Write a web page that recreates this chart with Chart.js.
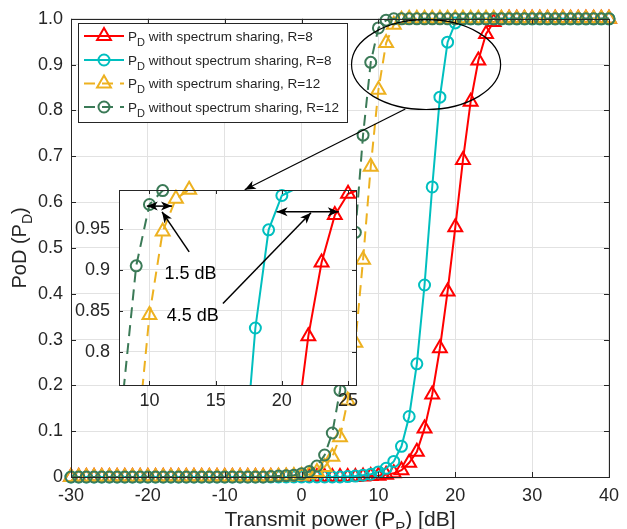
<!DOCTYPE html>
<html><head><meta charset="utf-8">
<script src="https://cdn.jsdelivr.net/npm/chart.js@4.4.1/dist/chart.umd.min.js"></script>
<style>
html,body{margin:0;padding:0;background:#fff;}
#wrap{position:relative;width:627px;height:529px;overflow:hidden;}
canvas{position:absolute;left:0;top:0;}
</style></head><body>
<div id="wrap"><canvas id="main" width="627" height="529"></canvas><canvas id="inset" width="627" height="529"></canvas></div>
<script>
// ---------------- data ----------------
const xValues = [-30,-29,-28,-27,-26,-25,-24,-23,-22,-21,-20,-19,-18,-17,-16,-15,-14,-13,-12,-11,
  -10,-9,-8,-7,-6,-5,-4,-3,-2,-1,0,1,2,3,4,5,6,7,8,9,10,11,12,13,14,15,16,17,18,19,20,
  21,22,23,24,25,26,27,28,29,30,31,32,33,34,35,36,37,38,39,40];
// P_D with spectrum sharing, R=8
const pdShareR8 = [0,0,0,0,0,0,0,0,0,0, 0,0,0,0,0,0,0,0,0,0, 0,0,0,0,0,0,0,0,0,0,
  0,0,0,0,0,0,0,0, 0.001,0.002,0.003,0.005,0.008,0.015,0.031,0.055,0.106,0.180,0.281,0.405,
  0.545,0.692,0.819,0.909,0.967,0.993,0.999, 1,1,1,1,1,1,1,1,1,1,1,1,1,1];
// P_D without spectrum sharing, R=8
const pdNoShareR8 = [0,0,0,0,0,0,0,0,0,0, 0,0,0,0,0,0,0,0,0,0, 0,0,0,0,0,0,0,0,0,0,
  0,0,0,0,0,0, 0.001,0.002,0.004,0.006,0.011,0.019,0.034,0.067,0.132,0.247,0.419,0.633,0.829,0.949,
  0.991,0.999, 1,1,1,1,1,1,1,1,1,1,1,1,1,1,1,1,1,1,1];
// P_D with spectrum sharing, R=12
const pdShareR12 = [0,0,0,0,0,0,0,0,0,0, 0,0,0,0,0,0,0,0,0,0, 0,0,0,0,0,0,0,
  0.001,0.001,0.002,0.003,0.006,0.011,0.022,0.044,0.087,0.167,0.293,0.474,0.677,0.845,0.947,0.987,0.998,
  1,1,1,1,1,1,1,1,1,1,1,1,1,1,1,1,1,1,1,1,1,1,1,1,1,1,1];
// P_D without spectrum sharing, R=12
const pdNoShareR12 = [0,0,0,0,0,0,0,0,0,0, 0,0,0,0,0,0,0,0,0,0, 0,0,0,0,0,0,
  0.001,0.002,0.003,0.004,0.007,0.012,0.024,0.048,0.096,0.189,0.335,0.534,0.746,0.905,0.980,0.997,
  1,1,1,1,1,1,1,1,1,1,1,1,1,1,1,1,1,1,1,1,1,1,1,1,1,1,1,1,1];

const seriesNames = ['with spectrum sharing, R=8','without spectrum sharing, R=8',
  'with spectrum sharing, R=12','without spectrum sharing, R=12'];
const xTicks = [-30,-20,-10,0,10,20,30,40];
const yTicks = [0,0.1,0.2,0.3,0.4,0.5,0.6,0.7,0.8,0.9,1.0];
const yTickLabels = ['0','0.1','0.2','0.3','0.4','0.5','0.6','0.7','0.8','0.9','1.0'];
const insetXTicks = [10,15,20,25];
const insetYTicks = [0.8,0.85,0.9,0.95];
const insetYTickLabels = ['0.8','0.85','0.9','0.95'];
const insetXRange = [7.7, 25.6];
const insetYRange = [0.7593, 0.9977];
// annotations (data coordinates)
const zoomEllipse = [16.2, 0.9, 9.7, 0.098];     // centre x, centre y, half width, half height
const zoomPointer = [13.5, 0.803, -7.4, 0.627];   // from (x,y) to (x,y)
const gapArrows = [[9.8, 11.7, 0.978], [19.6, 24.3, 0.971]];  // x1, x2, y
const labelArrows = [[13.0, 0.922, 10.95, 0.971], [15.55, 0.859, 22.2, 0.970]];
const gapLabels = ['1.5 dB', '4.5 dB'];
const gapLabelPos = [[11.13, 0.8944], [11.3, 0.8433]];

// ---------------- styles ----------------
const F = '"Liberation Sans", Arial, Helvetica, sans-serif';
const INK = '#262626';
const GRID = '#e2e2e2';
const styles = [
  {color:'#ff0000', shape:'triangle', dash:[]},
  {color:'#00bfbf', shape:'circle', dash:[]},
  {color:'#edb120', shape:'triangle', dash:[11,7]},
  {color:'#3b7a57', shape:'circle', dash:[11,7]}
];
const seriesData = [pdShareR8, pdNoShareR8, pdShareR12, pdNoShareR12];
const markerR = s => (s === 'triangle' ? 8 : 5.5);

function baseDataset(i, arr) {
  return {
    label: seriesNames[i],
    data: xValues.map((x, k) => ({x: x, y: arr[k]})),
    borderColor: styles[i].color,
    backgroundColor: 'rgba(0,0,0,0)',
    borderWidth: 2,
    borderDash: styles[i].dash,
    pointStyle: styles[i].shape,
    pointRadius: markerR(styles[i].shape),
    pointBorderWidth: 2,
    pointBorderColor: styles[i].color,
    pointBackgroundColor: 'rgba(0,0,0,0)',
    tension: 0,
    order: 4 - i
  };
}
function mainDatasets() {
  return seriesData.map((arr, i) => Object.assign(baseDataset(i, arr), {clip: false}));
}
function insetDatasets() {
  const out = [];
  seriesData.forEach((arr, i) => {
    // lines clipped to the inset box, markers only when their centre lies inside it
    out.push(Object.assign(baseDataset(i, arr), {clip: 0, pointRadius: 0, order: 10 - 2 * i}));
    out.push(Object.assign(baseDataset(i, arr), {
      clip: {left: 0, right: 0, top: 10, bottom: 0}, showLine: false, order: 9 - 2 * i,
      pointRadius: c => (c.raw && c.raw.y > 0.9985 ? 0 : markerR(styles[i].shape))
    }));
  });
  return out;
}

function drawMarker(ctx, shape, x, y, r) {
  ctx.beginPath();
  if (shape === 'circle') {
    ctx.arc(x, y, r, 0, Math.PI * 2);
  } else {
    const s = Math.sin(Math.PI * 2 / 3) * r;
    ctx.moveTo(x, y - r);
    ctx.lineTo(x + s, y + r / 2);
    ctx.lineTo(x - s, y + r / 2);
    ctx.closePath();
  }
  ctx.stroke();
}

function drawRich(ctx, parts, x, y, size, subSize, subDy) {
  let cx = x;
  for (const p of parts) {
    ctx.font = (p.sub ? subSize : size) + 'px ' + F;
    ctx.fillText(p.t, cx, p.sub ? y + subDy : y);
    cx += ctx.measureText(p.t).width;
  }
  return cx - x;
}
function richWidth(ctx, parts, size, subSize) {
  let w = 0;
  for (const p of parts) { ctx.font = (p.sub ? subSize : size) + 'px ' + F; w += ctx.measureText(p.t).width; }
  return w;
}

function arrowHead(ctx, x1, y1, x2, y2) {
  const a = Math.atan2(y2 - y1, x2 - x1);
  const L = 11, W = 4.5, N = 3;
  ctx.save();
  ctx.translate(x2, y2); ctx.rotate(a);
  ctx.beginPath();
  ctx.moveTo(0, 0);
  ctx.lineTo(-L, -W);
  ctx.lineTo(-L + N, 0);
  ctx.lineTo(-L, W);
  ctx.closePath();
  ctx.fill();
  ctx.restore();
}

function drawBoxTicks(chart, xt, yt, len) {
  const {ctx, chartArea: a, scales: {x, y}} = chart;
  ctx.save();
  ctx.strokeStyle = INK; ctx.lineWidth = 1; ctx.setLineDash([]);
  ctx.beginPath();
  xt.forEach(v => {
    const px = Math.round(x.getPixelForValue(v)) + 0.5;
    ctx.moveTo(px, a.bottom); ctx.lineTo(px, a.bottom - len);
    ctx.moveTo(px, a.top); ctx.lineTo(px, a.top + len);
  });
  yt.forEach(v => {
    const py = Math.round(y.getPixelForValue(v)) + 0.5;
    ctx.moveTo(a.left, py); ctx.lineTo(a.left + len, py);
    ctx.moveTo(a.right, py); ctx.lineTo(a.right - len, py);
  });
  ctx.stroke();
  ctx.strokeRect(Math.round(a.left) + 0.5, Math.round(a.top) + 0.5,
    Math.round(a.right - a.left), Math.round(a.bottom - a.top));
  ctx.restore();
}

const mainDecor = {
  id: 'mainDecor',
  beforeDraw(chart) {
    const ctx = chart.ctx;
    ctx.save(); ctx.fillStyle = '#fff'; ctx.fillRect(0, 0, chart.width, chart.height); ctx.restore();
  },
  afterDraw(chart) {
    const {ctx, chartArea: a, scales: {x, y}} = chart;
    drawBoxTicks(chart, xTicks, yTicks, 5);
    ctx.save();
    // ellipse + pointer
    ctx.strokeStyle = '#000'; ctx.fillStyle = '#000'; ctx.lineWidth = 1.2; ctx.setLineDash([]);
    const cx = x.getPixelForValue(zoomEllipse[0]), cy = y.getPixelForValue(zoomEllipse[1]);
    const rx = x.getPixelForValue(zoomEllipse[0] + zoomEllipse[2]) - cx;
    const ry = cy - y.getPixelForValue(zoomEllipse[1] + zoomEllipse[3]);
    ctx.beginPath(); ctx.ellipse(cx, cy, rx, ry, 0, 0, Math.PI * 2); ctx.stroke();
    const p1x = x.getPixelForValue(zoomPointer[0]), p1y = y.getPixelForValue(zoomPointer[1]);
    const p2x = x.getPixelForValue(zoomPointer[2]), p2y = y.getPixelForValue(zoomPointer[3]);
    ctx.beginPath(); ctx.moveTo(p1x, p1y); ctx.lineTo(p2x, p2y); ctx.stroke();
    arrowHead(ctx, p1x, p1y, p2x, p2y);
    // legend
    const lx = 78.5, ly = 23.5, lw = 269, lh = 99;
    ctx.fillStyle = '#fff'; ctx.fillRect(lx, ly, lw, lh);
    ctx.strokeStyle = INK; ctx.lineWidth = 1; ctx.strokeRect(lx, ly, lw, lh);
    const rows = [36, 60, 83.5, 107];
    rows.forEach((ry2, i) => {
      const st = styles[i];
      ctx.strokeStyle = st.color; ctx.lineWidth = 2; ctx.setLineDash(st.dash);
      ctx.beginPath(); ctx.moveTo(84, ry2); ctx.lineTo(124, ry2); ctx.stroke();
      ctx.setLineDash([]);
      drawMarker(ctx, st.shape, 104, ry2, markerR(st.shape));
      ctx.fillStyle = INK; ctx.textBaseline = 'alphabetic'; ctx.textAlign = 'left';
      drawRich(ctx, [{t:'P'}, {t:'D', sub:true}, {t:' ' + seriesNames[i]}], 128, ry2 + 4.5, 13.5, 11, 5);
    });
    // axis titles
    ctx.fillStyle = INK; ctx.textAlign = 'left'; ctx.textBaseline = 'alphabetic';
    const xt = [{t:'Transmit power (P'}, {t:'P', sub:true}, {t:') [dB]'}];
    const xw = richWidth(ctx, xt, 21, 15);
    drawRich(ctx, xt, (a.left + a.right) / 2 - xw / 2, 525.5, 21, 15, 6);
    const yt = [{t:'PoD (P'}, {t:'D', sub:true}, {t:')'}];
    const yw = richWidth(ctx, yt, 20, 14);
    ctx.save();
    ctx.translate(25.5, (a.top + a.bottom) / 2);
    ctx.rotate(-Math.PI / 2);
    drawRich(ctx, yt, -yw / 2, 0, 20, 14, 6);
    ctx.restore();
    ctx.restore();
  }
};

const insetDecor = {
  id: 'insetDecor',
  beforeDraw(chart) {
    const {ctx, chartArea: a} = chart;
    ctx.save(); ctx.fillStyle = '#fff'; ctx.fillRect(a.left, a.top, a.right - a.left, a.bottom - a.top); ctx.restore();
  },
  afterDraw(chart) {
    const {ctx, scales: {x, y}} = chart;
    drawBoxTicks(chart, insetXTicks, insetYTicks, 4);
    ctx.save();
    ctx.strokeStyle = '#000'; ctx.fillStyle = '#000'; ctx.lineWidth = 1.5; ctx.setLineDash([]);
    gapArrows.forEach(g => {
      const x1 = x.getPixelForValue(g[0]), x2 = x.getPixelForValue(g[1]), py = y.getPixelForValue(g[2]);
      ctx.beginPath(); ctx.moveTo(x1, py); ctx.lineTo(x2, py); ctx.stroke();
      arrowHead(ctx, x2, py, x1, py); arrowHead(ctx, x1, py, x2, py);
    });
    labelArrows.forEach(g => {
      const x1 = x.getPixelForValue(g[0]), y1 = y.getPixelForValue(g[1]);
      const x2 = x.getPixelForValue(g[2]), y2 = y.getPixelForValue(g[3]);
      ctx.beginPath(); ctx.moveTo(x1, y1); ctx.lineTo(x2, y2); ctx.stroke();
      arrowHead(ctx, x1, y1, x2, y2);
    });
    ctx.font = '18px ' + F; ctx.textAlign = 'left'; ctx.textBaseline = 'middle'; ctx.fillStyle = '#000';
    gapLabels.forEach((t, i) => {
      ctx.fillText(t, x.getPixelForValue(gapLabelPos[i][0]), y.getPixelForValue(gapLabelPos[i][1]));
    });
    ctx.restore();
  }
};

const tickFont = {family: F, size: 18};

new Chart(document.getElementById('main'), {
  type: 'line',
  data: {datasets: mainDatasets()},
  options: {
    responsive: false, animation: false, devicePixelRatio: 1, events: [],
    layout: {padding: {left: 0, right: 11, top: 16, bottom: 0}},
    plugins: {legend: {display: false}, tooltip: {enabled: false}},
    scales: {
      x: {
        type: 'linear', min: -30, max: 40,
        afterBuildTicks: s => { s.ticks = xTicks.map(v => ({value: v})); },
        afterFit: s => { s.height = 52; },
        grid: {color: GRID, drawTicks: false, lineWidth: 1},
        border: {display: false},
        ticks: {font: tickFont, color: INK, padding: 8, maxRotation: 0, autoSkip: false, callback: v => String(v)}
      },
      y: {
        type: 'linear', min: 0, max: 1,
        afterBuildTicks: s => { s.ticks = yTicks.map(v => ({value: v})); },
        afterFit: s => { s.width = 71; },
        grid: {color: GRID, drawTicks: false, lineWidth: 1},
        border: {display: false},
        ticks: {font: tickFont, color: INK, padding: 8, autoSkip: false, callback: (v, i) => yTickLabels[i]}
      }
    }
  },
  plugins: [mainDecor]
});

new Chart(document.getElementById('inset'), {
  type: 'line',
  data: {datasets: insetDatasets()},
  options: {
    responsive: false, animation: false, devicePixelRatio: 1, events: [],
    layout: {padding: {left: 60, right: 271, top: 190, bottom: 114}},
    plugins: {legend: {display: false}, tooltip: {enabled: false}},
    scales: {
      x: {
        type: 'linear', min: insetXRange[0], max: insetXRange[1],
        afterBuildTicks: s => { s.ticks = insetXTicks.map(v => ({value: v})); },
        afterFit: s => { s.height = 30; },
        grid: {color: GRID, drawTicks: false, lineWidth: 1},
        border: {display: false},
        ticks: {font: tickFont, color: INK, padding: 5, maxRotation: 0, autoSkip: false, callback: v => String(v)}
      },
      y: {
        type: 'linear', min: insetYRange[0], max: insetYRange[1],
        afterBuildTicks: s => { s.ticks = insetYTicks.map(v => ({value: v})); },
        afterFit: s => { s.width = 59; },
        grid: {color: GRID, drawTicks: false, lineWidth: 1},
        border: {display: false},
        ticks: {font: tickFont, color: INK, padding: 9, autoSkip: false, callback: (v, i) => insetYTickLabels[i]}
      }
    }
  },
  plugins: [insetDecor]
});
</script>
</body></html>
